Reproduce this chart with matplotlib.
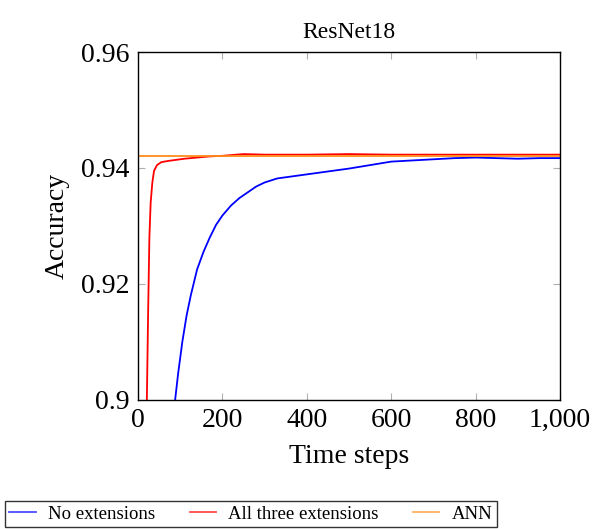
import matplotlib
matplotlib.use("Agg")
import matplotlib.pyplot as plt

plt.rcParams["font.family"] = ["Liberation Serif", "DejaVu Serif"]

# values
steps_no_ext = [88, 95, 105, 115, 125, 140, 155, 170, 185, 200, 220, 240, 260,
                280, 300, 330, 360, 400, 450, 500, 550, 600, 650, 700, 750,
                800, 850, 900, 950, 1000]
acc_no_ext = [0.900, 0.9045, 0.910, 0.9145, 0.918, 0.9225, 0.9255, 0.928, 0.9302,
              0.9318, 0.9335, 0.9348, 0.9358, 0.9368, 0.9375, 0.9382, 0.9385,
              0.9389, 0.9394, 0.9399, 0.9405, 0.9411, 0.9413, 0.9415, 0.9417,
              0.9418, 0.9417, 0.9416, 0.9417, 0.9417]

steps_all = [21, 24, 27, 30, 34, 38, 45, 55, 70, 90, 110, 140, 170, 200, 250,
             300, 350, 400, 500, 600, 700, 800, 900, 1000]
acc_all = [0.900, 0.915, 0.928, 0.934, 0.9375, 0.9395, 0.9405, 0.941, 0.9412,
           0.9414, 0.9416, 0.9418, 0.942, 0.9421, 0.9424, 0.9423, 0.9423,
           0.9423, 0.9424, 0.9423, 0.9423, 0.9423, 0.9423, 0.9423]

ann_steps = [0, 1000]
ann_acc = [0.9421, 0.9421]

fig = plt.figure(figsize=(5.93, 5.29), dpi=100)
ax = fig.add_axes([0.2327, 0.2439, 0.7117, 0.6578])

ax.plot(steps_no_ext, acc_no_ext, color="blue", lw=1.3, label="No extensions")
ax.plot(steps_all, acc_all, color="red", lw=1.3, label="All three extensions")
ax.plot(ann_steps, ann_acc, color="#ff8c1a", lw=1.3, label="ANN")

ax.set_xlim(0, 1000)
ax.set_ylim(0.9, 0.96)
ax.set_xticks([0, 200, 400, 600, 800, 1000])
ax.set_xticklabels(["0", "200", "400", "600", "800", "1,000"])
ax.set_yticks([0.9, 0.92, 0.94, 0.96])
ax.set_yticklabels(["0.9", "0.92", "0.94", "0.96"])

ax.tick_params(direction="in", length=5, width=0.8, color="#b0b0b0",
               top=True, right=True, labelsize=20, pad=6)
for sp in ax.spines.values():
    sp.set_linewidth(1.0)
    sp.set_color("black")

ax.set_xlabel("Time steps", fontsize=20, labelpad=8)
ax.set_ylabel("Accuracy", fontsize=20, labelpad=8)
ax.set_title("ResNet18", fontsize=17, pad=10)

leg = fig.legend(loc="lower left", bbox_to_anchor=(0.008, 0.003), ncol=3,
                 fontsize=13.5, frameon=True, fancybox=False, edgecolor="black",
                 handlelength=1.4, columnspacing=1.85, borderpad=0.25,
                 handletextpad=0.65, borderaxespad=0.0)
leg.get_frame().set_linewidth(1.0)
for line in leg.get_lines():
    line.set_alpha(0.7)

fig.savefig("out.png", dpi=100)
